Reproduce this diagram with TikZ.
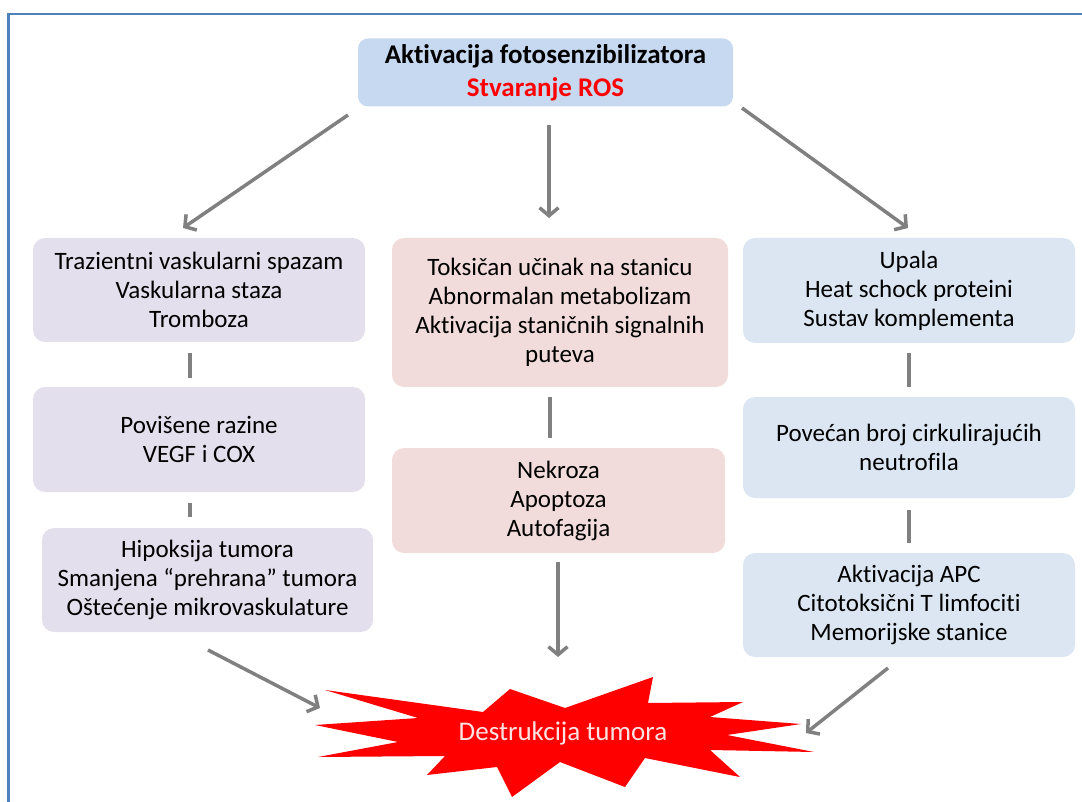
\documentclass[tikz,border=0pt]{standalone}
\usepackage{fontspec}
\setmainfont{Carlito}[Ligatures=NoCommon]
\usetikzlibrary{arrows.meta}
\definecolor{framecol}{HTML}{4F81BD}
\definecolor{topfill}{HTML}{C6D9F0}
\definecolor{leftfill}{HTML}{E4DFEC}
\definecolor{midfill}{HTML}{F2DCDB}
\definecolor{rightfill}{HTML}{DCE6F2}
\definecolor{arrgray}{HTML}{808080}
\definecolor{rosred}{HTML}{FF0000}
\definecolor{startext}{HTML}{FBE3E3}
\begin{document}
\begin{tikzpicture}[x=1pt,y=-1pt,
  box/.style={rounded corners=12pt, align=center, inner sep=0pt,
    font=\fontsize{25}{29}\selectfont, text=black},
  arr/.style={draw=arrgray, line width=3.5pt, -{Straight Barb[length=8pt,width=19pt]}},
  conn/.style={draw=arrgray, line width=3.5pt}]
\useasboundingbox (0,0) rectangle (1082,802);
% frame
\draw[framecol, line width=2.5pt] (8.5,802) -- (8.5,14) -- (1082,14);

% top box
\node[box, fill=topfill, minimum width=375pt, minimum height=68pt, rounded corners=10pt,
  font=\fontsize{27}{33}\selectfont] (top) at (545.5,72.5)
  {\textbf{Aktivacija fotosenzibilizatora}\\\textcolor{rosred}{\textbf{Stvaranje ROS}}};

% left column
\node[box, fill=leftfill, minimum width=332pt, minimum height=104pt] (L1) at (199,290)
  {Trazientni vaskularni spazam\\Vaskularna staza\\Tromboza};
\node[box, fill=leftfill, minimum width=332pt, minimum height=105pt] (L2) at (199,439.5)
  {Povišene razine\\VEGF i COX};
\node[box, fill=leftfill, minimum width=331pt, minimum height=104pt] (L3) at (207.5,580)
  {Hipoksija tumora\\Smanjena “prehrana” tumora\\Oštećenje mikrovaskulature};

% middle column
\node[box, fill=midfill, minimum width=336pt, minimum height=149pt] (M1) at (560,312.5)
  {Toksičan učinak na stanicu\\Abnormalan metabolizam\\Aktivacija staničnih signalnih\\puteva};
\node[box, fill=midfill, minimum width=333pt, minimum height=105pt] (M2) at (558.5,500.5)
  {Nekroza\\Apoptoza\\Autofagija};

% right column
\node[box, fill=rightfill, minimum width=332pt, minimum height=105pt] (R1) at (909,290.5)
  {Upala\\Heat schock proteini\\Sustav komplementa};
\node[box, fill=rightfill, minimum width=332pt, minimum height=101pt] (R2) at (909,447.5)
  {Povećan broj cirkulirajućih\\neutrofila};
\node[box, fill=rightfill, minimum width=332pt, minimum height=104pt] (R3) at (909,605)
  {Aktivacija APC\\Citotoksični T limfociti\\Memorijske stanice};

% vertical connectors
\draw[conn] ([xshift=-9pt,yshift=-11pt]L1.south) -- ([xshift=-9pt,yshift=9pt]L2.north);
\draw[conn] ([xshift=-9pt,yshift=-11pt]L2.south) -- ([xshift=-17.5pt,yshift=11pt]L3.north);
\draw[conn] ([xshift=-10pt,yshift=-10pt]M1.south) -- ([xshift=-8.5pt,yshift=10pt]M2.north);
\draw[conn] ([yshift=-10pt]R1.south) -- ([yshift=10pt]R2.north);
\draw[conn] ([yshift=-12pt]R2.south) -- ([yshift=10pt]R3.north);

% explosion
\fill[rosred] (325,690) -- (483,712) -- (510,689) -- (565,708) -- (653,677) -- (648,703)
  -- (743,702) -- (710,717) -- (801,724) -- (727,735) -- (814,752) -- (710,750)
  -- (740,777) -- (645,758) -- (625,787) -- (560,762) -- (512,797) -- (497,767)
  -- (427,775) -- (445,756) -- (318,757) -- (398,742) -- (315,725) -- (418,718) -- cycle;
\node[text=startext, font=\fontsize{27}{32}\selectfont, inner sep=0pt] (D) at (563,733) {Destrukcija tumora};

% arrow end points
\coordinate (a1s) at (348,115); \coordinate (a1e) at (183,228);
\coordinate (a2s) at (549,125); \coordinate (a2e) at (549,218);
\coordinate (a3s) at (742,108); \coordinate (a3e) at (908,228);
\coordinate (b1s) at (208,650); \coordinate (b1e) at (320,708);
\coordinate (b2s) at (558,562); \coordinate (b2e) at (558,657);
\coordinate (b3s) at (888,668); \coordinate (b3e) at (806,733);

\draw[arr] (a1s) -- (a1e);
\draw[arr] (a2s) -- (a2e);
\draw[arr] (a3s) -- (a3e);
\draw[arr] (b1s) -- (b1e);
\draw[arr] (b2s) -- (b2e);
\draw[arr] (b3s) -- (b3e);
\end{tikzpicture}
\end{document}
